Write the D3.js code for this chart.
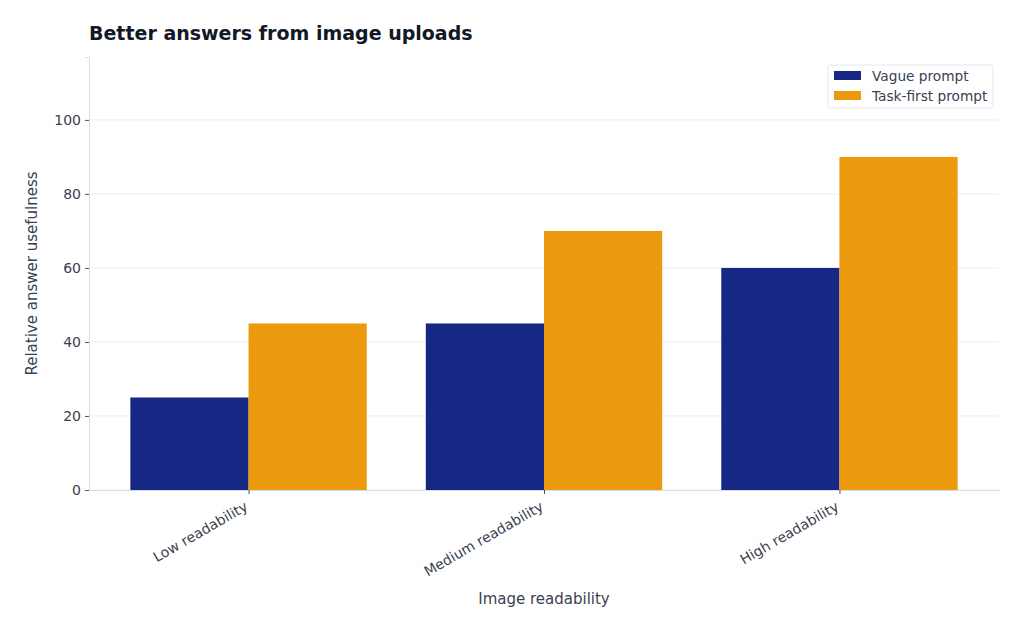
<!DOCTYPE html>
<html>
<head>
<meta charset="utf-8">
<script src="https://cdn.jsdelivr.net/npm/d3@7"></script>
<style>
  html, body { margin: 0; padding: 0; background: #fff; }
  svg text { font-family: "DejaVu Sans", sans-serif; }
</style>
</head>
<body>
<div id="chart"></div>
<script>
(function () {
  'use strict';

  // ── Data ───────────────────────────────────────────
  var categories = ['Low readability', 'Medium readability', 'High readability'];
  var seriesNames = ['Vague prompt', 'Task-first prompt'];
  var vagueValues = [25, 45, 60];
  var taskFirstValues = [45, 70, 90];
  var yTicks = [0, 20, 40, 60, 80, 100];
  var colors = ['#172884', '#EA9A0C'];

  var W = 1024, H = 631;
  var m = { left: 89, right: 25, top: 57, bottom: 141 };
  var iw = W - m.left - m.right;
  var ih = H - m.top - m.bottom;

  var svg = d3.select('#chart').append('svg')
    .attr('width', W).attr('height', H);

  var g = svg.append('g').attr('transform', 'translate(' + m.left + ',' + m.top + ')');

  // category index domain, matplotlib-like margins
  var barW = 0.4;
  var x = d3.scaleLinear().domain([-0.54, categories.length - 1 + 0.54]).range([0, iw]);
  var y = d3.scaleLinear().domain([0, 90 * 1.3]).range([ih, 0]);

  // grid
  g.append('g').selectAll('line')
    .data(yTicks)
    .enter().append('line')
    .attr('x1', 0).attr('x2', iw)
    .attr('y1', function (d) { return y(d); })
    .attr('y2', function (d) { return y(d); })
    .attr('stroke', '#e5e7eb').attr('stroke-width', 0.8);

  // bars
  var series = [vagueValues, taskFirstValues];
  series.forEach(function (vals, si) {
    g.append('g').selectAll('rect')
      .data(vals)
      .enter().append('rect')
      .attr('x', function (d, i) { return x(i + (si === 0 ? -barW : 0)); })
      .attr('width', x(barW) - x(0))
      .attr('y', function (d) { return y(d); })
      .attr('height', function (d) { return y(0) - y(d); })
      .attr('fill', colors[si]);
  });

  // y axis
  var yAxis = g.append('g')
    .call(d3.axisLeft(y).tickValues(yTicks).tickSize(4).tickPadding(4));
  yAxis.select('.domain').attr('stroke', '#d9dce1');
  yAxis.selectAll('.tick line').attr('stroke', '#4b5563');
  yAxis.selectAll('.tick text').attr('fill', '#3a4150').style('font-size', '14px');

  // x axis
  var xAxis = g.append('g')
    .attr('transform', 'translate(0,' + ih + ')')
    .call(d3.axisBottom(x).tickValues(d3.range(categories.length))
      .tickFormat(function (d) { return categories[d]; })
      .tickSize(4).tickSizeOuter(0));
  xAxis.select('.domain').attr('stroke', '#d9dce1');
  xAxis.selectAll('.tick line').attr('stroke', '#4b5563');
  xAxis.selectAll('.tick text')
    .attr('fill', '#3a4150')
    .style('font-size', '14px')
    .attr('text-anchor', 'end')
    .attr('dy', '0.35em')
    .attr('transform', 'translate(-6,9) rotate(-30)');

  // axis titles
  svg.append('text')
    .attr('x', m.left + iw / 2).attr('y', 604)
    .attr('text-anchor', 'middle')
    .attr('fill', '#3a4150').style('font-size', '15px')
    .text('Image readability');

  svg.append('text')
    .attr('transform', 'translate(37,' + (m.top + y(58.5)) + ') rotate(-90)')
    .attr('text-anchor', 'middle')
    .attr('fill', '#3a4150').style('font-size', '15px')
    .text('Relative answer usefulness');

  // title
  svg.append('text')
    .attr('x', 89).attr('y', 40)
    .attr('fill', '#111827')
    .style('font-size', '19px').style('font-weight', 'bold')
    .text('Better answers from image uploads');

  // legend
  var lg = svg.append('g').attr('transform', 'translate(828,65)');
  lg.append('rect')
    .attr('width', 165).attr('height', 43).attr('rx', 2)
    .attr('fill', '#fff').attr('stroke', '#e5e7eb');
  seriesNames.forEach(function (name, i) {
    lg.append('rect')
      .attr('x', 6).attr('y', 6 + i * 20)
      .attr('width', 27).attr('height', 9)
      .attr('fill', colors[i]);
    lg.append('text')
      .attr('x', 44).attr('y', 15.5 + i * 20)
      .attr('fill', '#3a4150').style('font-size', '13.7px')
      .text(name);
  });
})();
</script>
</body>
</html>
